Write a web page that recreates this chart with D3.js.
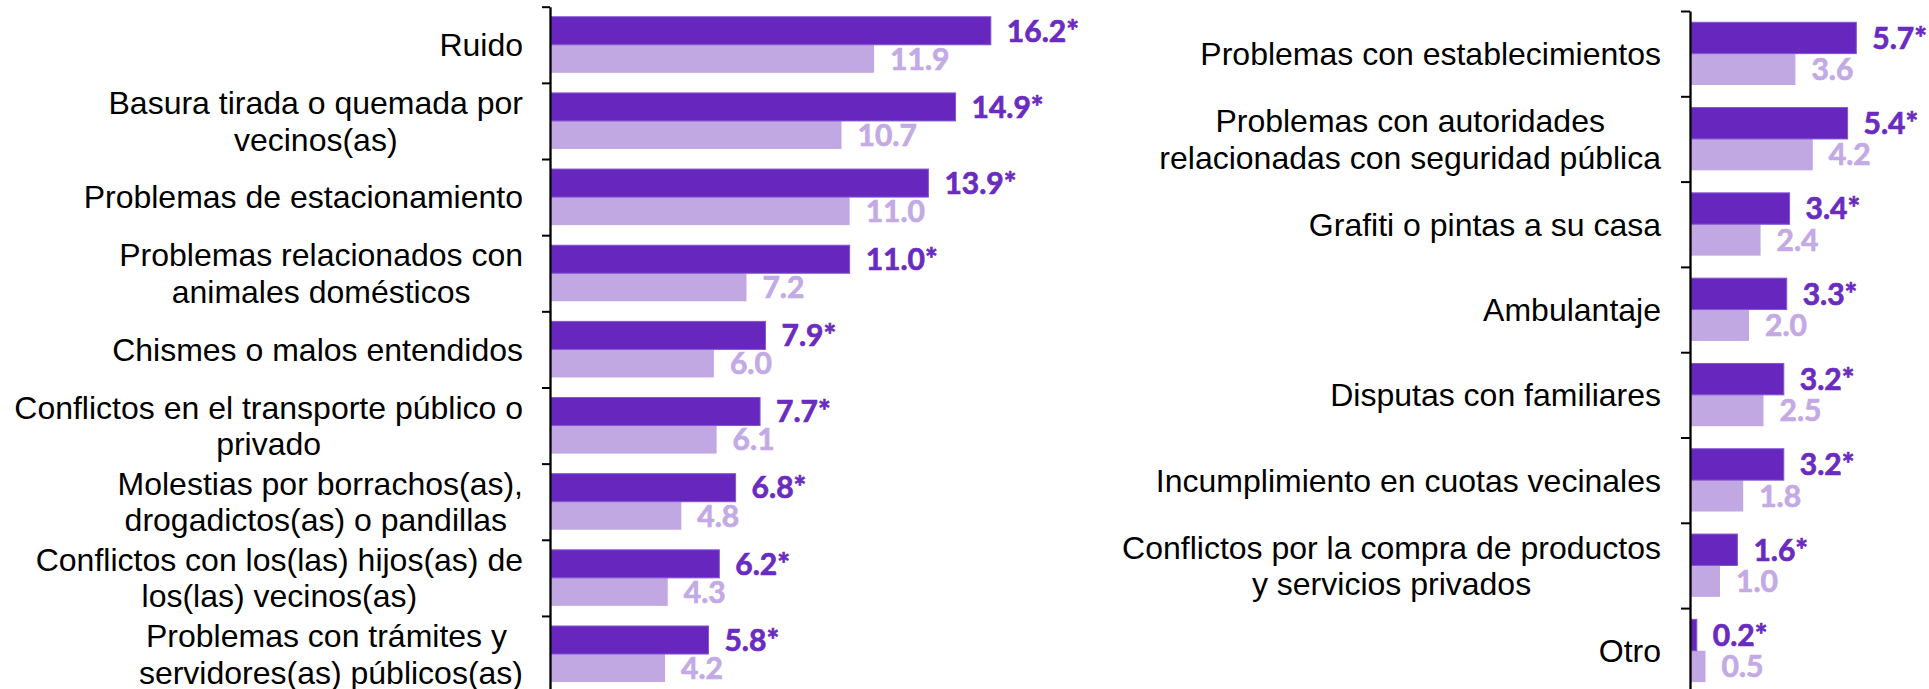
<!DOCTYPE html>
<html>
<head>
<meta charset="utf-8">
<script src="https://cdn.jsdelivr.net/npm/d3@7"></script>
<style>
  html, body { margin: 0; padding: 0; background: #ffffff; }
  svg { display: block; }
  .cat { font-family: "Liberation Sans", Arial, sans-serif; font-size: 32px; fill: #000; white-space: pre; }
  .val { font-family: Lato, "Open Sans", sans-serif; font-weight: 700; font-size: 30px; stroke-width: 0.7px; }
</style>
</head>
<body>
<svg id="chart" width="1929" height="689"></svg>
<script>
// ---- Data ----
const leftCategories = [
  ["Ruido"],
  ["Basura tirada o quemada por", "vecinos(as)"],
  ["Problemas de estacionamiento"],
  ["Problemas relacionados con", "animales domésticos"],
  ["Chismes o malos entendidos"],
  ["Conflictos en el transporte público o", "privado"],
  ["Molestias por borrachos(as),", "drogadictos(as) o pandillas "],
  ["Conflictos con los(las) hijos(as) de", "los(las) vecinos(as)"],
  ["Problemas con trámites y ", "servidores(as) públicos(as)"]
];
const leftDark  = [16.2, 14.9, 13.9, 11.0, 7.9, 7.7, 6.8, 6.2, 5.8];
const leftLight = [11.9, 10.7, 11.0, 7.2, 6.0, 6.1, 4.8, 4.3, 4.2];

const rightCategories = [
  ["Problemas con establecimientos"],
  ["Problemas con autoridades", "relacionadas con seguridad pública"],
  ["Grafiti o pintas a su casa"],
  ["Ambulantaje"],
  ["Disputas con familiares"],
  ["Incumplimiento en cuotas vecinales"],
  ["Conflictos por la compra de productos", "y servicios privados"],
  ["Otro"]
];
const rightDark  = [5.7, 5.4, 3.4, 3.3, 3.2, 3.2, 1.6, 0.2];
const rightLight = [3.6, 4.2, 2.4, 2.0, 2.5, 1.8, 1.0, 0.5];

const darkSuffix = "*";

// ---- Styles ----
const darkColor = "#6726bd";
const darkStroke = "#8456cf";
const lightColor = "#c2a8e3";
const darkText = "#6a2bc0";
const lightText = "#c4aae5";

const svg = d3.select("#chart");

function panel(cfg) {
  const n = cfg.cats.length;
  const g = svg.append("g");
  const idx = d3.range(n);

  const yLin = d3.scaleLinear().domain([0, n]).range([cfg.y0, cfg.y1]);
  const yBand = d3.scaleBand().domain(idx).range([cfg.y0, cfg.y1])
    .paddingInner(0.264).paddingOuter(0.132);
  const ySub = d3.scaleBand().domain(["dark", "light"]).range([0, yBand.bandwidth()]);
  const x = d3.scaleLinear().domain([0, cfg.maxV]).range([cfg.x0, cfg.x0 + cfg.maxV * cfg.pxPerUnit]);

  // bars
  g.selectAll("rect.light").data(idx).join("rect")
    .attr("x", x(0)).attr("y", i => yBand(i) + ySub("light"))
    .attr("width", i => x(cfg.light[i]) - x(0)).attr("height", ySub.bandwidth())
    .attr("fill", lightColor);
  g.selectAll("rect.dark").data(idx).join("rect")
    .attr("x", x(0)).attr("y", i => yBand(i) + ySub("dark"))
    .attr("width", i => x(cfg.dark[i]) - x(0)).attr("height", ySub.bandwidth())
    .attr("fill", darkColor).attr("stroke", darkStroke).attr("stroke-width", 1);

  // value labels
  const fs = 30;
  g.selectAll("text.vd").data(idx).join("text")
    .attr("class", "val")
    .attr("x", i => x(cfg.dark[i]) + 16)
    .attr("y", i => yBand(i) + ySub("dark") + ySub.bandwidth() / 2 + fs * 0.36)
    .attr("fill", darkText).attr("stroke", darkText)
    .text(i => cfg.dark[i].toFixed(1) + darkSuffix);
  g.selectAll("text.vl").data(idx).join("text")
    .attr("class", "val")
    .attr("x", i => x(cfg.light[i]) + 16)
    .attr("y", i => yBand(i) + ySub("light") + ySub.bandwidth() / 2 + fs * 0.36)
    .attr("fill", lightText).attr("stroke", lightText)
    .text(i => cfg.light[i].toFixed(1));

  // axis
  const ax = g.append("g").attr("transform", `translate(${cfg.x0 - 1},0)`)
    .call(d3.axisLeft(yLin).tickValues(d3.range(n + 1)).tickFormat("").tickSize(cfg.tick).tickSizeOuter(0));
  ax.select(".domain").attr("stroke", "#000").attr("stroke-width", 2.3);
  ax.selectAll(".tick line").attr("stroke", "#000").attr("stroke-width", 2);

  // category labels
  const lfs = 32, lh = 36.5;
  idx.forEach(i => {
    const lines = cfg.cats[i];
    const cy = yBand(i) + yBand.bandwidth() / 2;
    const texts = lines.map((t, k) => g.append("text")
      .attr("class", "cat")
      .attr("xml:space", "preserve")
      .attr("y", cy + (k - (lines.length - 1) / 2) * lh + lfs * 0.355)
      .text(t));
    const w = d3.max(texts, t => t.node().getComputedTextLength());
    const cx = cfg.labelRight - w / 2;
    texts.forEach(t => t.attr("x", cx).attr("text-anchor", "middle"));
  });
}

panel({ cats: leftCategories, dark: leftDark, light: leftLight,
  maxV: 16.2, x0: 551, pxPerUnit: 27.15, y0: 6.7, y1: 692.1, tick: 8, labelRight: 523 });
panel({ cats: rightCategories, dark: rightDark, light: rightLight,
  maxV: 5.7, x0: 1691, pxPerUnit: 29.0, y0: 11, y1: 693.4, tick: 9, labelRight: 1661 });
</script>
</body>
</html>
